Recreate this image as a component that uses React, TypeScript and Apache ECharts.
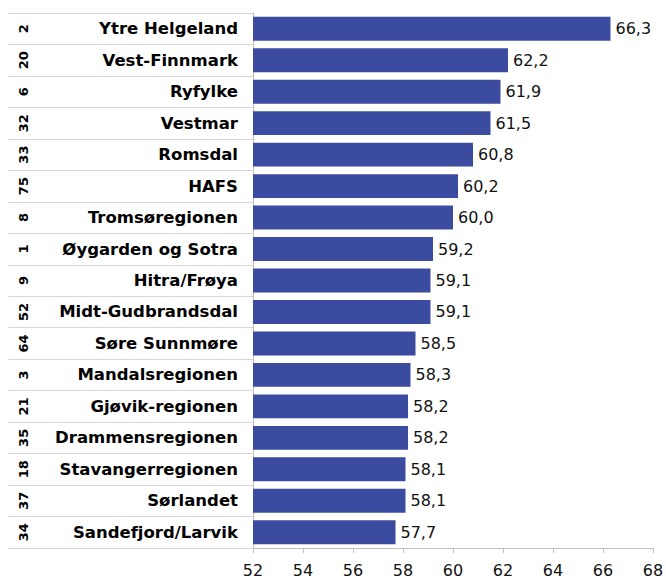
import React, { useEffect, useRef } from "react";
import * as echarts from "echarts";

const regions = [
  "Ytre Helgeland",
  "Vest-Finnmark",
  "Ryfylke",
  "Vestmar",
  "Romsdal",
  "HAFS",
  "Tromsøregionen",
  "Øygarden og Sotra",
  "Hitra/Frøya",
  "Midt-Gudbrandsdal",
  "Søre Sunnmøre",
  "Mandalsregionen",
  "Gjøvik-regionen",
  "Drammensregionen",
  "Stavangerregionen",
  "Sørlandet",
  "Sandefjord/Larvik",
];
const ranks = ["2", "20", "6", "32", "33", "75", "8", "1", "9", "52", "64", "3", "21", "35", "18", "37", "34"];
const values = [66.3, 62.2, 61.9, 61.5, 60.8, 60.2, 60.0, 59.2, 59.1, 59.1, 58.5, 58.3, 58.2, 58.2, 58.1, 58.1, 57.7];
const xMin = 52;
const xMax = 68;
const xStep = 2;

export default function App() {
  const ref = useRef<HTMLDivElement>(null);
  useEffect(() => {
    if (!ref.current) return;
    const chart = echarts.init(ref.current, null, { renderer: "svg" });
    chart.setOption({
      animation: false,
      backgroundColor: "#ffffff",
      grid: { left: 253, right: 13, top: 13, bottom: 33, containLabel: false, outerBoundsMode: "none" },
      xAxis: {
        type: "value",
        min: xMin,
        max: xMax,
        interval: xStep,
        splitLine: { show: false },
        axisLine: { show: true, lineStyle: { color: "#c0c0c0", width: 1 } },
        axisTick: { show: true, length: 5, lineStyle: { color: "#c0c0c0" } },
        axisLabel: {
          margin: 15,
          lineHeight: 15,
          color: "#111",
          fontFamily: "DejaVu Sans",
          fontSize: 16,
        },
      },
      yAxis: [
        {
          type: "category",
          inverse: true,
          data: regions,
          axisLine: { show: true, lineStyle: { color: "#c0c0c0" } },
          axisTick: { show: true, length: 245, lineStyle: { color: "#d6d6d6" } },
          axisLabel: {
            margin: 15,
            color: "#000",
            fontFamily: "DejaVu Sans",
            fontWeight: "bold",
            fontSize: 16.5,
          },
        },
        {
          type: "category",
          inverse: true,
          position: "left",
          data: ranks,
          axisLine: { show: false },
          axisTick: { show: false },
          axisLabel: {
            rotate: 90,
            margin: 223,
            color: "#000",
            fontFamily: "DejaVu Sans",
            fontWeight: "bold",
            fontSize: 13,
          },
        },
      ],
      series: [
        {
          type: "bar",
          yAxisIndex: 0,
          data: values,
          barCategoryGap: "24%",
          itemStyle: { color: "#3b4ba0" },
          label: {
            show: true,
            position: "right",
            distance: 5,
            color: "#111",
            fontFamily: "DejaVu Sans",
            fontSize: 16,
            formatter: (p: any) => Number(p.value).toFixed(1).replace(".", ","),
          },
        },
      ],
    });
    return () => chart.dispose();
  }, []);
  return (
    <div
      ref={ref}
      style={{ position: "fixed", left: 0, top: 0, width: 666, height: 581 }}
    />
  );
}
